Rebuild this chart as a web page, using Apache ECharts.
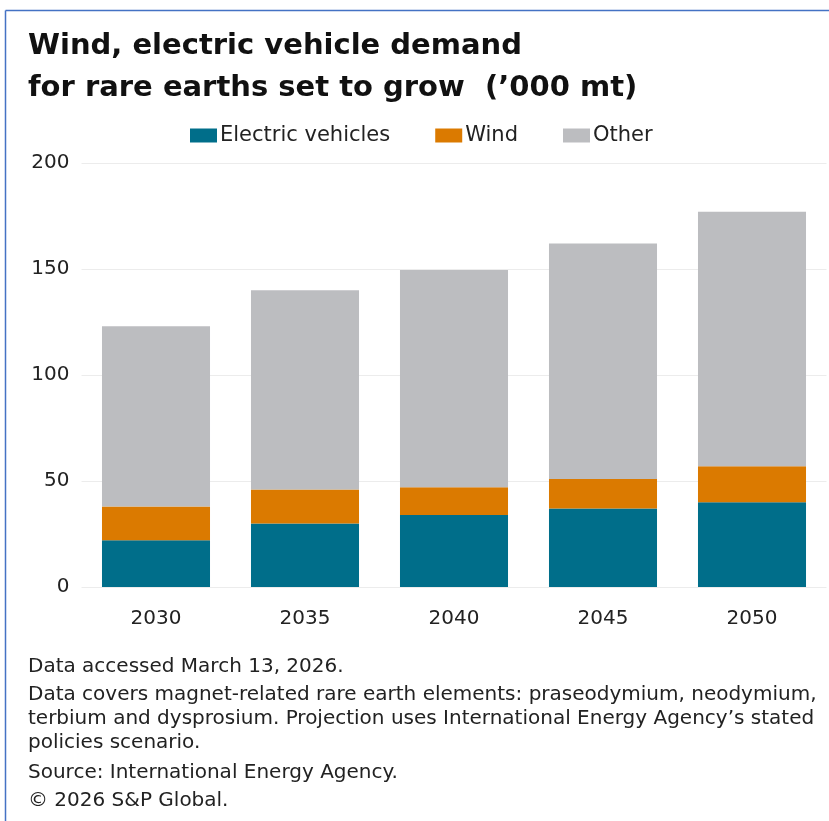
<!DOCTYPE html>
<html>
<head>
<meta charset="utf-8">
<script src="https://cdn.jsdelivr.net/npm/echarts@6/dist/echarts.min.js"></script>
<style>
  html, body { margin: 0; padding: 0; background: #fff; }
  #chart { width: 829px; height: 821px; }
</style>
</head>
<body>
<div id="chart"></div>
<script>
// Rare earth demand by end use, '000 metric tons
const years = ['2030', '2035', '2040', '2045', '2050'];
const electricVehicles = [22, 30, 34, 37, 40];
const wind = [16, 16, 13, 14, 17];
const other = [85, 94, 102.5, 111, 120];
const yTicks = { min: 0, max: 200, interval: 50 };

const titleText = "Wind, electric vehicle demand\nfor rare earths set to grow  (\u2019000 mt)";
const notes = [
  'Data accessed March 13, 2026.',
  'Data covers magnet-related rare earth elements: praseodymium, neodymium,\nterbium and dysprosium. Projection uses International Energy Agency\u2019s stated\npolicies scenario.',
  'Source: International Energy Agency.',
  '\u00a9 2026 S&P Global.'
];

const COLORS = { ev: '#006E8A', wind: '#DB7A00', other: '#BCBDC0' };
const FONT = '"DejaVu Sans", sans-serif';
const TEXT = '#222';

const chart = echarts.init(document.getElementById('chart'), null, { renderer: 'canvas' });

// footnote blocks, stacked from the top
const noteTops = [655, 683, 761, 789];
const noteGraphics = notes.map((t, i) => ({
  type: 'text',
  left: 28,
  top: noteTops[i],
  style: {
    text: t,
    font: '20px "DejaVu Sans", sans-serif',
    fill: TEXT,
    lineHeight: 24
  }
}));

const barSeries = (name, data, color) => ({
  name,
  type: 'bar',
  stack: 'total',
  data,
  barWidth: '72.5%',
  itemStyle: { color },
  emphasis: { disabled: true }
});

chart.setOption({
  animation: false,
  backgroundColor: '#fff',
  title: {
    text: titleText,
    left: 23,
    top: 20,
    textStyle: {
      fontFamily: FONT,
      fontWeight: 'bold',
      fontSize: 29,
      lineHeight: 42,
      color: '#111'
    }
  },
  legend: {
    top: 120,
    left: 185,
    itemWidth: 27,
    itemHeight: 14,
    itemGap: 45,
    icon: 'rect',
    textStyle: { fontFamily: FONT, fontSize: 21, color: TEXT, padding: [0, 0, 0, -2] },
    data: ['Electric vehicles', 'Wind', 'Other']
  },
  grid: { left: 81.5, right: 2.5, top: 163, bottom: 234, containLabel: false },
  xAxis: {
    type: 'category',
    data: years,
    axisLine: { show: false },
    axisTick: { show: false },
    axisLabel: { fontFamily: FONT, fontSize: 20, color: TEXT, margin: 22 }
  },
  yAxis: {
    type: 'value',
    min: yTicks.min,
    max: yTicks.max,
    interval: yTicks.interval,
    axisLine: { show: false },
    axisTick: { show: false },
    axisLabel: { fontFamily: FONT, fontSize: 20, color: TEXT, margin: 12 },
    splitLine: { lineStyle: { color: '#ECECEC', width: 1 } }
  },
  series: [
    barSeries('Electric vehicles', electricVehicles, COLORS.ev),
    barSeries('Wind', wind, COLORS.wind),
    barSeries('Other', other, COLORS.other)
  ],
  graphic: [
    { type: 'line', shape: { x1: 5.5, y1: 10.5, x2: 829, y2: 10.5 }, style: { stroke: '#4472C4', lineWidth: 1.5 } },
    { type: 'line', shape: { x1: 5.5, y1: 10.5, x2: 5.5, y2: 821 }, style: { stroke: '#4472C4', lineWidth: 1.5 } }
  ].concat(noteGraphics)
});
</script>
</body>
</html>
